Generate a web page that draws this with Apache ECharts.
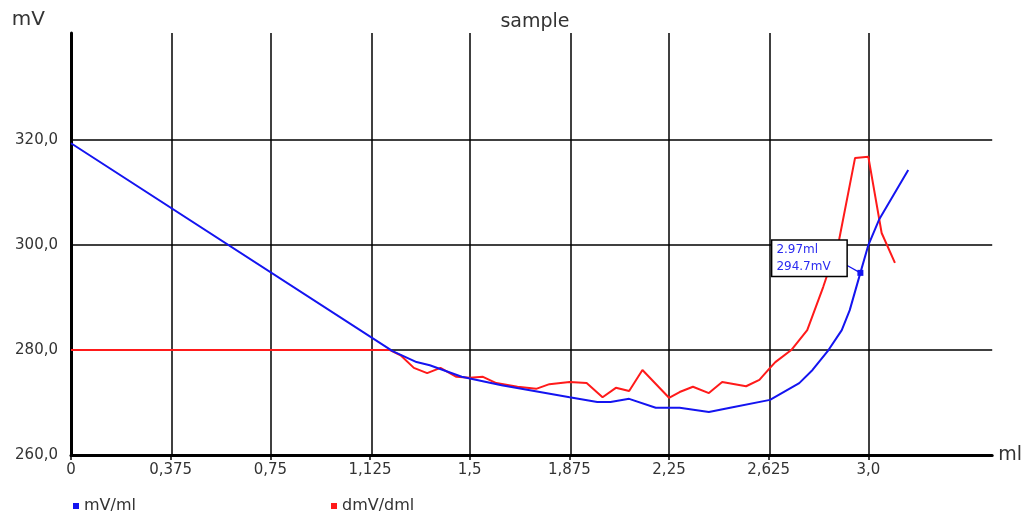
<!DOCTYPE html>
<html>
<head>
<meta charset="utf-8">
<script src="https://cdn.jsdelivr.net/npm/echarts@6/dist/echarts.min.js"></script>
<style>html,body{margin:0;padding:0;background:#fff;}#c{width:1025px;height:512px;}</style>
</head>
<body>
<div id="c"></div>
<script>
const xTickValues = [0, 0.375, 0.75, 1.125, 1.5, 1.875, 2.25, 2.625, 3.0];
const xTickLabels = ['0', '0,375', '0,75', '1,125', '1,5', '1,875', '2,25', '2,625', '3,0'];
const yTickValues = [260, 280, 300, 320];
const yTickLabels = ['260,0', '280,0', '300,0', '320,0'];

const mvX = [0, 1.21, 1.30, 1.35, 1.47, 1.62, 1.876, 1.98, 2.03, 2.10, 2.20, 2.29, 2.40, 2.48, 2.63, 2.74, 2.79, 2.85, 2.90, 2.93, 2.97, 3.00, 3.04, 3.15];
const mvY = [319.4, 279.8, 277.7, 277.1, 274.9, 273.3, 271.0, 270.1, 270.1, 270.7, 269.0, 269.0, 268.2, 269.0, 270.5, 273.7, 276.2, 280.0, 283.8, 287.6, 294.7, 300.0, 304.8, 314.3];

const dmvX = [0, 1.20, 1.24, 1.29, 1.34, 1.39, 1.45, 1.50, 1.55, 1.60, 1.68, 1.75, 1.80, 1.876, 1.94, 2.00, 2.05, 2.10, 2.15, 2.25, 2.29, 2.34, 2.40, 2.45, 2.54, 2.59, 2.63, 2.65, 2.71, 2.77, 2.83, 2.89, 2.95, 3.00, 3.05, 3.10];
const dmvY = [280.0, 280.0, 279.0, 276.6, 275.6, 276.6, 274.9, 274.7, 274.9, 273.7, 273.0, 272.6, 273.5, 273.9, 273.7, 271.0, 272.8, 272.2, 276.2, 270.9, 272.0, 273.0, 271.8, 273.9, 273.1, 274.3, 276.6, 277.7, 280.0, 283.8, 292.0, 301.0, 316.6, 316.8, 302.3, 296.6];

const markerPoint = [2.97, 294.7];
const markerLabels = ['2.97ml', '294.7mV'];
const markerLeaderEnd = [2.917, 296.2];

const seriesNames = ['mV/ml', 'dmV/dml'];
const seriesColors = ['#1414f0', '#ff1a1a'];

function pairs(xs, ys) { return xs.map((x, i) => [x, ys[i]]); }
function lookup(vals, labels, v) {
  for (let i = 0; i < vals.length; i++) if (Math.abs(vals[i] - v) < 1e-6) return labels[i];
  return '';
}

const chart = echarts.init(document.getElementById('c'), null, { renderer: 'canvas' });
const font = 'DejaVu Sans';
chart.setOption({
  animation: false,
  backgroundColor: '#fff',
  title: {
    text: 'sample', left: 530, top: 8, textAlign: 'center',
    textStyle: { fontFamily: font, fontSize: 19, fontWeight: 'normal', color: '#333' }
  },
  legend: [
    { data: [seriesNames[0]], left: 68, top: 493, icon: 'rect', itemWidth: 6, itemHeight: 6, itemGap: 8,
      textStyle: { fontFamily: font, fontSize: 16, color: '#333' } },
    { data: [seriesNames[1]], left: 326, top: 493, icon: 'rect', itemWidth: 6, itemHeight: 6, itemGap: 8,
      textStyle: { fontFamily: font, fontSize: 16, color: '#333' } }
  ],
  grid: { left: 71, right: 32, top: 33, bottom: 57, containLabel: false },
  xAxis: {
    type: 'value', min: 0, max: 3.466, interval: 0.375,
    name: 'ml', nameLocation: 'end', nameGap: 6,
    nameTextStyle: { fontFamily: font, fontSize: 19, color: '#333', verticalAlign: 'middle', padding: [4, 0, 0, 0] },
    axisLine: { show: true, onZero: false, lineStyle: { color: '#000', width: 3 } },
    axisTick: { show: true, length: 5, customValues: xTickValues, lineStyle: { color: '#000', width: 1.5 } },
    axisLabel: { show: true, customValues: xTickValues, margin: 8, fontFamily: font, fontSize: 15, color: '#333',
      formatter: v => lookup(xTickValues, xTickLabels, v) },
    splitLine: { show: false }
  },
  yAxis: {
    type: 'value', min: 260, max: 340.4, interval: 20,
    name: 'mV', nameLocation: 'end', nameGap: 13,
    nameTextStyle: { fontFamily: font, fontSize: 20, color: '#333', align: 'right', verticalAlign: 'middle', padding: [0, 26, 0, 0] },
    axisLine: { show: true, onZero: false, lineStyle: { color: '#000', width: 3 } },
    axisTick: { show: false },
    axisLabel: { show: true, customValues: yTickValues, margin: 13, fontFamily: font, fontSize: 15, color: '#333',
      padding: [8, 0, 0, 0],
      formatter: v => lookup(yTickValues, yTickLabels, v) },
    splitLine: { show: false }
  },
  series: [
    {
      name: 'grid', type: 'line', data: [], z: 1, silent: true,
      markLine: {
        z: 1, silent: true, symbol: 'none', animation: false,
        label: { show: false },
        lineStyle: { color: '#000', width: 1.5, type: 'solid' },
        data: xTickValues.filter(v => v > 0).map(v => ({ xAxis: v }))
          .concat(yTickValues.filter(v => v > 260).map(v => ({ yAxis: v })))
      }
    },
    {
      name: seriesNames[1], type: 'line', data: pairs(dmvX, dmvY), z: 3,
      showSymbol: false, symbol: 'rect', color: seriesColors[1],
      lineStyle: { color: seriesColors[1], width: 2 }
    },
    {
      name: seriesNames[0], type: 'line', data: pairs(mvX, mvY), z: 4,
      showSymbol: false, symbol: 'rect', color: seriesColors[0],
      lineStyle: { color: seriesColors[0], width: 2 },
      markLine: {
        z: 5, silent: true, symbol: 'none', animation: false,
        label: { show: false },
        lineStyle: { color: seriesColors[0], width: 1.2, type: 'solid' },
        data: [[{ coord: markerPoint }, { coord: markerLeaderEnd }]]
      },
      markPoint: {
        z: 6, silent: true, animation: false,
        data: [{
          coord: markerPoint, symbol: 'rect', symbolSize: 6,
          itemStyle: { color: seriesColors[0] },
          label: {
            show: true, position: [-85, 6], align: 'left', verticalAlign: 'bottom',
            formatter: markerLabels.join('\n'),
            fontFamily: font, fontSize: 12, color: '#2a2af0', lineHeight: 17,
            width: 62,
            backgroundColor: '#fff', borderColor: '#000', borderWidth: 1.5,
            padding: [1, 8, 0, 4]
          }
        }]
      }
    }
  ]
});
</script>
</body>
</html>
